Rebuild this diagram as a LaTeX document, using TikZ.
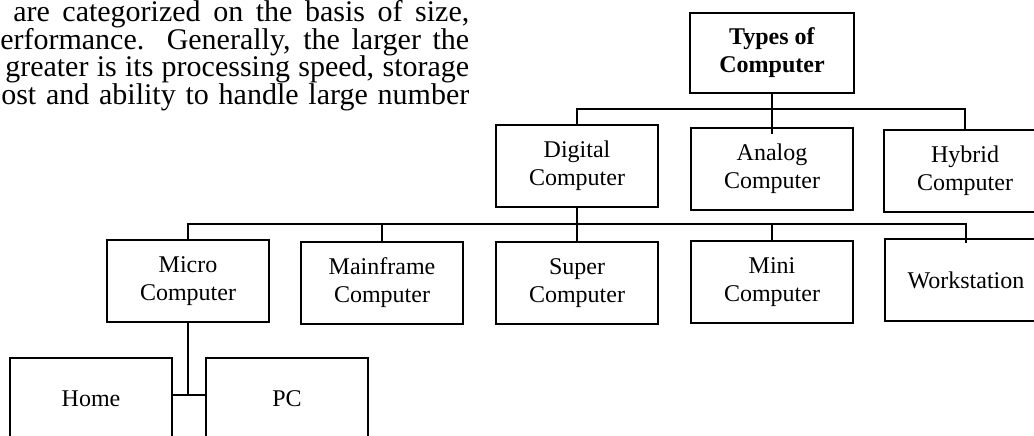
\documentclass[tikz,border=0pt]{standalone}
\usepackage{fontspec}
\setmainfont{Liberation Serif}
\tikzset{
  chart/.style={draw, line width=1.5pt, align=center, inner sep=0pt,
    minimum width=121.5pt, minimum height=61.5pt,
    font=\fontsize{18}{21}\selectfont},
  link/.style={line width=1.5pt},
  para/.style={anchor=base west, inner sep=0pt, font=\fontsize{22.5}{21}\selectfont}
}
\begin{document}
\begin{tikzpicture}[x=0.75pt,y=-0.75pt]
\useasboundingbox (0,0) rectangle (1034,435);
\clip (0,0) rectangle (1034,435);

% running text beside the chart
\node[para] (l1) at (13,22)    {\makebox[342pt][s]{are categorized on the basis of size,}};
\node[para] (l2) at (0,49.5)   {\makebox[351.75pt][s]{erformance. Generally, the larger the}};
\node[para] (l3) at (5,77)     {\makebox[348pt][s]{greater is its processing speed, storage}};
\node[para] (l4) at (1,104.5)  {\makebox[351pt][s]{ost and ability to handle large number}};

% root
\node[chart, minimum width=123pt, minimum height=60pt] (types) at (772,53) {\textbf{Types of}\\\textbf{Computer}};

% first level
\node[chart] (digital) at (577,166) {Digital\\Computer};
\node[chart] (analog)  at (772,169) {Analog\\Computer};
\node[chart] (hybrid)  at (965,171) {Hybrid\\Computer};

% second level
\node[chart] (micro)       at (188,281) {Micro\\Computer};
\node[chart] (mainframe)   at (382,283) {Mainframe\\Computer};
\node[chart] (super)       at (577,283) {Super\\Computer};
\node[chart] (mini)        at (772,282) {Mini\\Computer};
\node[chart] (workstation) at (966,280) {Workstation};

% third level
\node[chart] (home) at (91,399)  {Home};
\node[chart] (pc)   at (287,399) {PC};

% bus lines
\coordinate (bus1)     at (772,109);
\coordinate (bus2)     at (772,224);
\coordinate (typesend) at (772,134);
\coordinate (wsend)    at (966,243);
\coordinate (pcbus)    at (188,395);

\draw[link] (types.south) -- (typesend);
\draw[link] (digital.north) |- (bus1) -| (hybrid.north);
\draw[link] (digital.south) -- (super.north);
\draw[link] (micro.north) |- (bus2) -| (wsend);
\draw[link] (mainframe.north) -- (mainframe.north |- bus2);
\draw[link] (mini.north) -- (mini.north |- bus2);
\draw[link] (micro.south) -- (pcbus);
\draw[link] (home.east |- pcbus) -- (pc.west |- pcbus);
\end{tikzpicture}
\end{document}
